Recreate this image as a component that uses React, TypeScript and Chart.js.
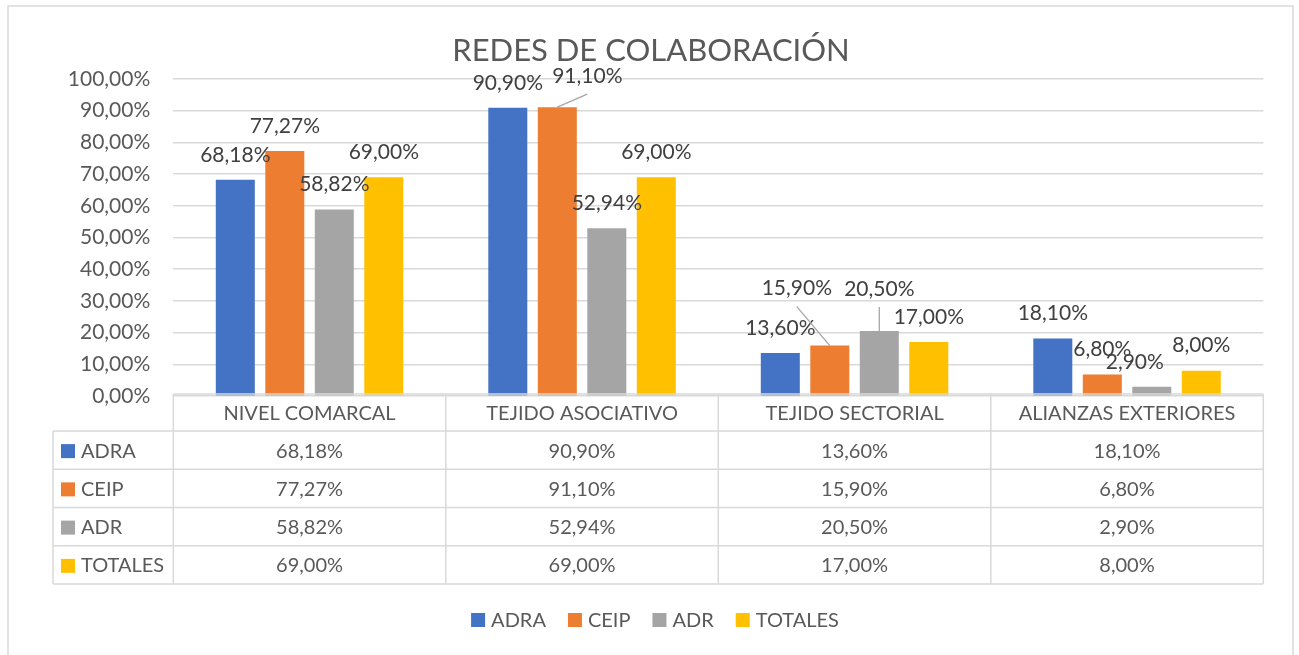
import React, { useEffect, useRef } from "react";
import { Chart, registerables } from "chart.js";

Chart.register(...registerables);

// ---- data ----
const title = "REDES DE COLABORACIÓN";
const categories = ["NIVEL COMARCAL", "TEJIDO ASOCIATIVO", "TEJIDO SECTORIAL", "ALIANZAS EXTERIORES"];
const seriesNames = ["ADRA", "CEIP", "ADR", "TOTALES"];
const adraValues = [0.6818, 0.909, 0.136, 0.181];
const ceipValues = [0.7727, 0.911, 0.159, 0.068];
const adrValues = [0.5882, 0.5294, 0.205, 0.029];
const totalesValues = [0.69, 0.69, 0.17, 0.08];
const yMin = 0;
const yMax = 1;
const yStep = 0.1;

// ---- style ----
const FONT = "Lato, 'Open Sans', sans-serif";
const colors = ["#4472C4", "#ED7D31", "#A5A5A5", "#FFC000"];
const TEXT = "#595959";
const LABEL = "#404040";
const LINE = "#d9d9d9";
// manual label moves in Excel: key "series-category" -> [dx, dy, leaderLine]
const labelShifts: Record<string, [number, number, boolean]> = {
  "1-1": [30, -6, true],
  "1-2": [-33, -32, true],
  "2-2": [0, -17, true],
  "2-3": [-17, 0, false],
};

const fmt = (v: number) => (v * 100).toFixed(2).replace(".", ",") + "%";

const overlay = {
  id: "overlay",
  beforeDraw(chart: any) {
    const ctx = chart.ctx;
    ctx.save();
    ctx.fillStyle = "#ffffff";
    ctx.fillRect(0, 0, chart.width, chart.height);
    ctx.restore();
  },
  afterDatasetsDraw(chart: any) {
    const ctx: CanvasRenderingContext2D = chart.ctx;
    const area = chart.chartArea;
    ctx.save();

    // outer border
    ctx.strokeStyle = LINE;
    ctx.lineWidth = 1.5;
    ctx.strokeRect(8, 6, 1285, 720);

    // title
    ctx.fillStyle = TEXT;
    ctx.font = `31px ${FONT}`;
    ctx.textAlign = "center";
    ctx.textBaseline = "alphabetic";
    ctx.fillText(title, 651, 61);

    // data labels
    ctx.font = `21px ${FONT}`;
    chart.data.datasets.forEach((ds: any, di: number) => {
      const meta = chart.getDatasetMeta(di);
      meta.data.forEach((bar: any, ci: number) => {
        const sh = labelShifts[`${di}-${ci}`] || [0, 0, false];
        const cx = bar.x + sh[0];
        const cy = bar.y - 25 + sh[1];
        if (sh[2]) {
          ctx.strokeStyle = "#a6a6a6";
          ctx.lineWidth = 1.3;
          ctx.beginPath();
          ctx.moveTo(cx, cy + 18);
          ctx.lineTo(bar.x, bar.y);
          ctx.stroke();
        }
        ctx.fillStyle = LABEL;
        ctx.textAlign = "center";
        ctx.textBaseline = "middle";
        ctx.fillText(fmt(ds.data[ci]), cx, cy);
      });
    });

    // data table
    const n = categories.length;
    const catW = (area.right - area.left) / n;
    const xs = Array.from({ length: n + 1 }, (_, i) => area.left + i * catW);
    const x0 = 53;
    const yTop = 394;
    const yHead = 431;
    const yBottom = 584;
    const rowH = (yBottom - yHead) / seriesNames.length;
    ctx.strokeStyle = LINE;
    ctx.lineWidth = 1.5;
    ctx.beginPath();
    ctx.moveTo(area.left, yTop);
    ctx.lineTo(area.right, yTop);
    for (let r = 0; r <= seriesNames.length; r++) {
      const y = yHead + r * rowH;
      ctx.moveTo(x0, y);
      ctx.lineTo(area.right, y);
    }
    ctx.moveTo(x0, yHead);
    ctx.lineTo(x0, yBottom);
    xs.forEach((x) => {
      ctx.moveTo(x, yTop);
      ctx.lineTo(x, yBottom);
    });
    ctx.stroke();

    ctx.font = `20px ${FONT}`;
    ctx.fillStyle = TEXT;
    ctx.textAlign = "center";
    ctx.textBaseline = "middle";
    categories.forEach((c, i) => {
      ctx.fillText(c, (xs[i] + xs[i + 1]) / 2, (yTop + yHead) / 2 + 1);
    });
    chart.data.datasets.forEach((ds: any, di: number) => {
      const cyRow = yHead + di * rowH + rowH / 2 + 1;
      ctx.fillStyle = colors[di];
      ctx.fillRect(61, cyRow - 7, 14, 14);
      ctx.fillStyle = TEXT;
      ctx.textAlign = "left";
      ctx.fillText(ds.label, 81, cyRow);
      ctx.textAlign = "center";
      ds.data.forEach((v: number, ci: number) => {
        ctx.fillText(fmt(v), (xs[ci] + xs[ci + 1]) / 2, cyRow);
      });
    });

    // legend
    ctx.font = `20px ${FONT}`;
    const widths = seriesNames.map((s) => ctx.measureText(s).width);
    const sq = 14, gap = 6, itemGap = 22;
    const total = widths.reduce((a, w) => a + sq + gap + w, 0) + itemGap * (seriesNames.length - 1);
    let lx = 655 - total / 2;
    const ly = 620;
    seriesNames.forEach((s, i) => {
      ctx.fillStyle = colors[i];
      ctx.fillRect(lx, ly - 7, sq, sq);
      ctx.fillStyle = TEXT;
      ctx.textAlign = "left";
      ctx.textBaseline = "middle";
      ctx.fillText(s, lx + sq + gap, ly + 1);
      lx += sq + gap + widths[i] + itemGap;
    });

    ctx.restore();
  },
};

export default function App() {
  const ref = useRef<HTMLCanvasElement | null>(null);
  useEffect(() => {
    if (!ref.current) return;
    const seriesValues = [adraValues, ceipValues, adrValues, totalesValues];
    const chart = new Chart(ref.current, {
      type: "bar",
      data: {
        labels: categories,
        datasets: seriesNames.map((name, i) => ({
          label: name,
          data: seriesValues[i],
          backgroundColor: colors[i],
          borderWidth: 0,
          categoryPercentage: 0.7266,
          barPercentage: 0.788,
        })),
      },
      options: {
        responsive: false,
        devicePixelRatio: 1,
        animation: false,
        layout: { padding: { left: 0, right: 35.7, top: 79, bottom: 259 } },
        plugins: {
          legend: { display: false },
          title: { display: false },
          tooltip: { enabled: false },
        },
        scales: {
          x: { display: false },
          y: {
            min: yMin,
            max: yMax,
            afterFit: (scale: any) => {
              scale.width = 173.3;
            },
            border: { display: false },
            grid: { color: LINE, lineWidth: 1.5, drawTicks: false, tickLength: 0 },
            ticks: {
              stepSize: yStep,
              padding: 23,
              color: TEXT,
              font: { family: FONT, size: 21 },
              callback: (v: any) => fmt(Number(v)),
            },
          },
        },
      },
      plugins: [overlay],
    });
    return () => chart.destroy();
  }, []);
  return (
    <div style={{ position: "absolute", left: 0, top: 0, width: 1299, height: 655 }}>
      <canvas ref={ref} width={1299} height={655} style={{ display: "block" }} />
    </div>
  );
}
